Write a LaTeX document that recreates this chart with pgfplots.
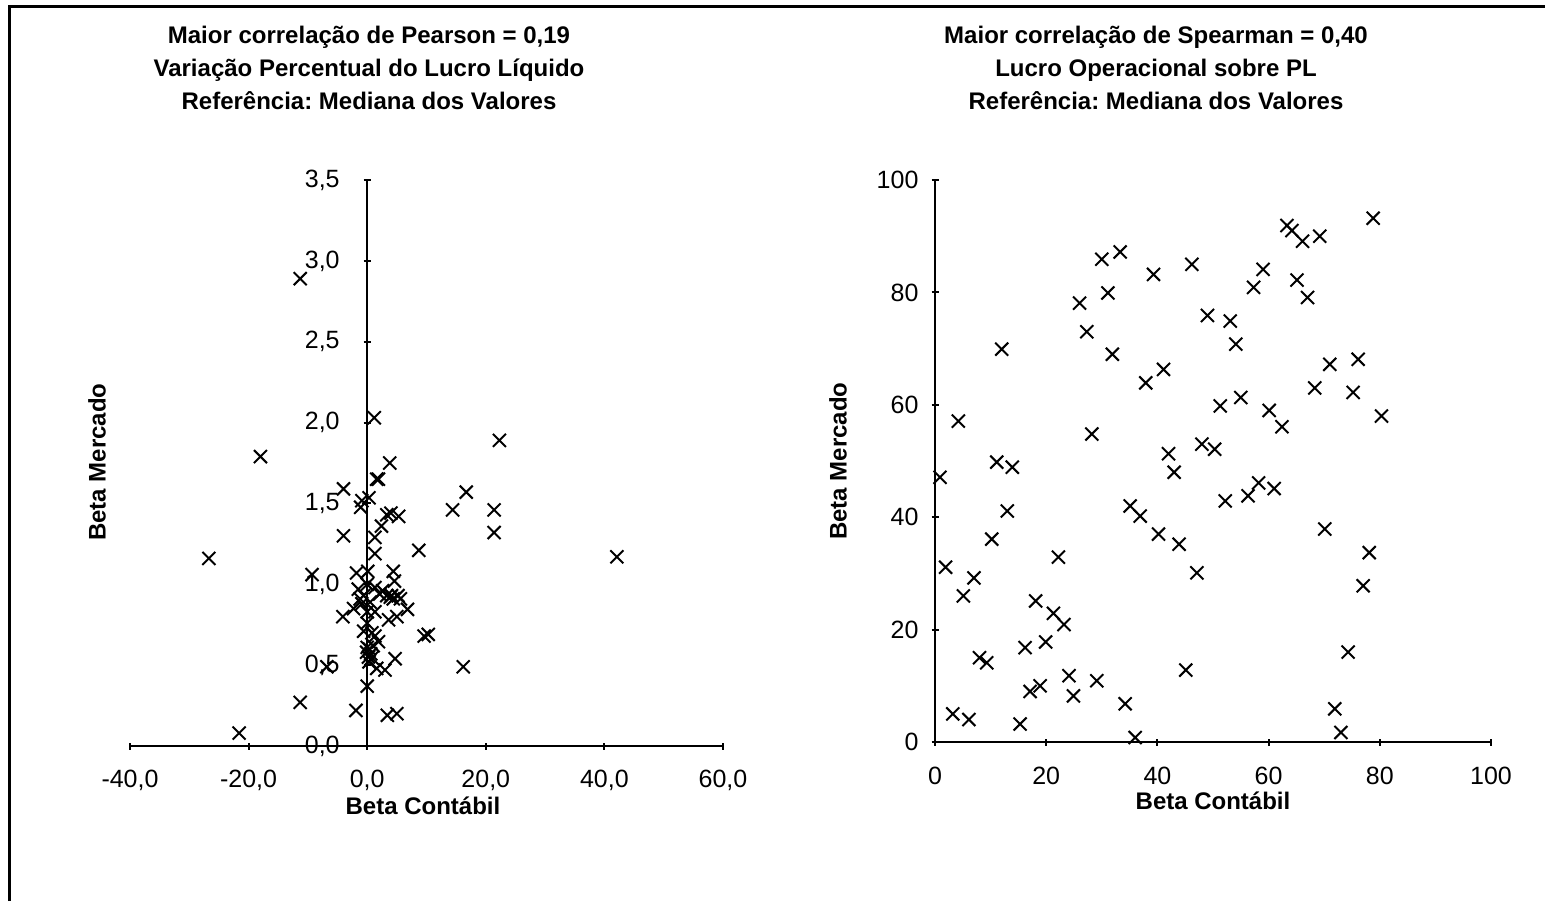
\documentclass[border=0pt]{standalone}
\usepackage{fontspec}
\setmainfont{Liberation Sans}
\usepackage{pgfplots}
\pgfplotsset{compat=1.18}
\frenchspacing
\begin{document}
\begin{tikzpicture}
\path[use as bounding box] (0,0) rectangle (772.5pt,-450.5pt);
\draw[line width=1.5pt] (4.5pt,-450.5pt) -- (4.5pt,-3pt) -- (772.5pt,-3pt);
\pgfplotsset{
  myscatter/.style={only marks, mark=x, mark size=4.6pt, mark options={black, line width=1pt}},
  every axis/.append style={
    scale only axis, anchor=south west, clip=false,
    tick style={line width=1pt, black},
    major tick length=3.5pt, tick align=outside,
    ticklabel style={font=\fontsize{12.5}{14}\selectfont},
    /pgf/number format/assume math mode=true,
    enlargelimits=false,
  }
}
% ---------- Left chart ----------
\begin{axis}[
  at={(65pt,-373pt)}, width=296.5pt, height=283pt,
  xmin=-40, xmax=60, ymin=0, ymax=3.5,
  axis lines=middle,
  axis line style={-, line width=1pt, black},
  x axis line style={-}, y axis line style={-},
  hide obscured x ticks=false, hide obscured y ticks=false,
  xtick={-40,-20,0,20,40,60},
  xticklabels={{-40,0},{-20,0},{0,0},{20,0},{40,0},{60,0}},
  ytick={0,0.5,1,1.5,2,2.5,3,3.5},
  yticklabels={{0,0},{0,5},{1,0},{1,5},{2,0},{2,5},{3,0},{3,5}},
  xticklabel style={yshift=-6.5pt},
  yticklabel style={xshift=-8.5pt},
]
\addplot[myscatter] coordinates {
(-11.3,2.89) (-18.0,1.79) (-26.7,1.16) (-9.3,1.06) (-11.3,0.27) (-21.6,0.08)
(42.1,1.17) (22.3,1.89) (16.7,1.57) (14.4,1.46) (21.4,1.46) (21.4,1.32)
(16.2,0.49) (8.7,1.21) (9.6,0.68) (10.3,0.69) (1.2,2.03) (3.8,1.75)
(1.6,1.65) (1.9,1.65) (-4.0,1.59) (0.3,1.535) (-0.9,1.517) (-1.1,1.476)
(3.3,1.43) (4.0,1.44) (5.3,1.42) (2.4,1.36) (-4.0,1.30) (1.3,1.29)
(1.3,1.19) (-1.8,1.07) (0.1,1.08) (4.4,1.08) (4.6,1.02) (0.0,1.00)
(1.3,0.98) (2.1,0.94) (3.3,0.93) (3.9,0.92) (4.4,0.91) (5.6,0.91)
(-1.2,0.91) (-0.9,0.88) (0.5,0.89) (-2.3,0.85) (-4.1,0.80) (0.0,0.83)
(1.3,0.83) (6.8,0.845) (3.6,0.78) (5.0,0.80) (0.0,0.76) (-0.6,0.71)
(0.8,0.70) (1.3,0.68) (1.9,0.645) (0.0,0.61) (-0.1,0.58) (0.6,0.57)
(0.2,0.55) (0.8,0.545) (4.7,0.54) (-6.8,0.49) (1.6,0.48) (3.0,0.47)
(0.0,0.37) (-1.9,0.22) (3.4,0.19) (5.0,0.20)
(-1.5,0.97) (-0.6,0.93) (2.6,0.96) (4.1,0.93) (5.2,0.93)
(0.4,0.60) (1.0,0.62) (0.3,0.52)
};
\end{axis}
% ---------- Right chart ----------
\begin{axis}[
  at={(467.5pt,-371pt)}, width=278pt, height=281pt,
  xmin=0, xmax=100, ymin=0, ymax=100,
  axis lines=left,
  axis line style={-, line width=1pt, black},
  x axis line style={-}, y axis line style={-},
  xtick={0,20,40,60,80,100}, ytick={0,20,40,60,80,100},
  xticklabel style={yshift=-7pt},
  yticklabel style={xshift=-3pt},
]
\addplot[myscatter] coordinates {
(30.0,85.9) (33.3,87.2) (39.3,83.2) (46.2,85.0) (31.1,79.9) (26.0,78.1)
(49.0,75.9) (27.3,73.0) (12.0,69.9) (31.9,69.0) (41.1,66.3) (37.9,63.9)
(51.3,59.8) (4.2,57.1) (28.2,54.8) (42.0,51.3) (48.0,53.0) (50.3,52.1)
(11.1,49.8) (78.8,93.2) (63.3,91.9) (64.2,91.0) (66.1,89.1) (69.2,90.0)
(59.0,84.1) (57.3,80.9) (65.1,82.2) (67.0,79.1) (53.1,74.9) (54.1,70.8)
(76.1,68.1) (71.0,67.2) (68.3,63.0) (75.2,62.2) (55.0,61.3) (60.1,59.0)
(62.4,56.1) (80.3,58.0) (0.9,47.1) (13.9,48.9) (13.0,41.1) (10.2,36.1)
(1.9,31.1) (7.0,29.2) (5.1,26.0) (22.2,32.9) (18.1,25.1) (21.3,22.9)
(23.2,20.9) (19.9,17.8) (16.2,16.8) (8.0,15.0) (9.3,14.1) (24.1,11.8)
(29.1,10.9) (18.9,10.0) (17.1,9.0) (24.9,8.2) (34.2,6.8) (3.2,5.0)
(6.1,4.0) (15.3,3.2) (36.0,0.8) (35.1,42.0) (36.9,40.2) (40.2,37.0)
(43.9,35.2) (47.1,30.1) (45.1,12.8) (43.0,48.0) (52.2,42.9) (56.3,43.8)
(58.2,46.1) (61.0,45.1) (70.1,37.9) (78.1,33.7) (77.0,27.8) (74.3,16.0)
(71.9,5.9) (73.0,1.7)
};
\end{axis}
% ---------- Titles and labels ----------
\begin{scope}[every node/.style={font=\bfseries\fontsize{12}{16.5}\selectfont, align=center, inner sep=0pt}]
\node at (184.5pt,-34pt) {Maior correlação de Pearson = 0,19\\Variação Percentual do Lucro Líquido\\Referência: Mediana dos Valores};
\node at (578pt,-34pt) {Maior correlação de Spearman = 0,40\\Lucro Operacional sobre PL\\Referência: Mediana dos Valores};
\node at (211.5pt,-403pt) {Beta Contábil};
\node at (606.5pt,-400.5pt) {Beta Contábil};
\node[rotate=90] at (48.5pt,-231pt) {Beta Mercado};
\node[rotate=90] at (419pt,-230.5pt) {Beta Mercado};
\end{scope}
\end{tikzpicture}
\end{document}
